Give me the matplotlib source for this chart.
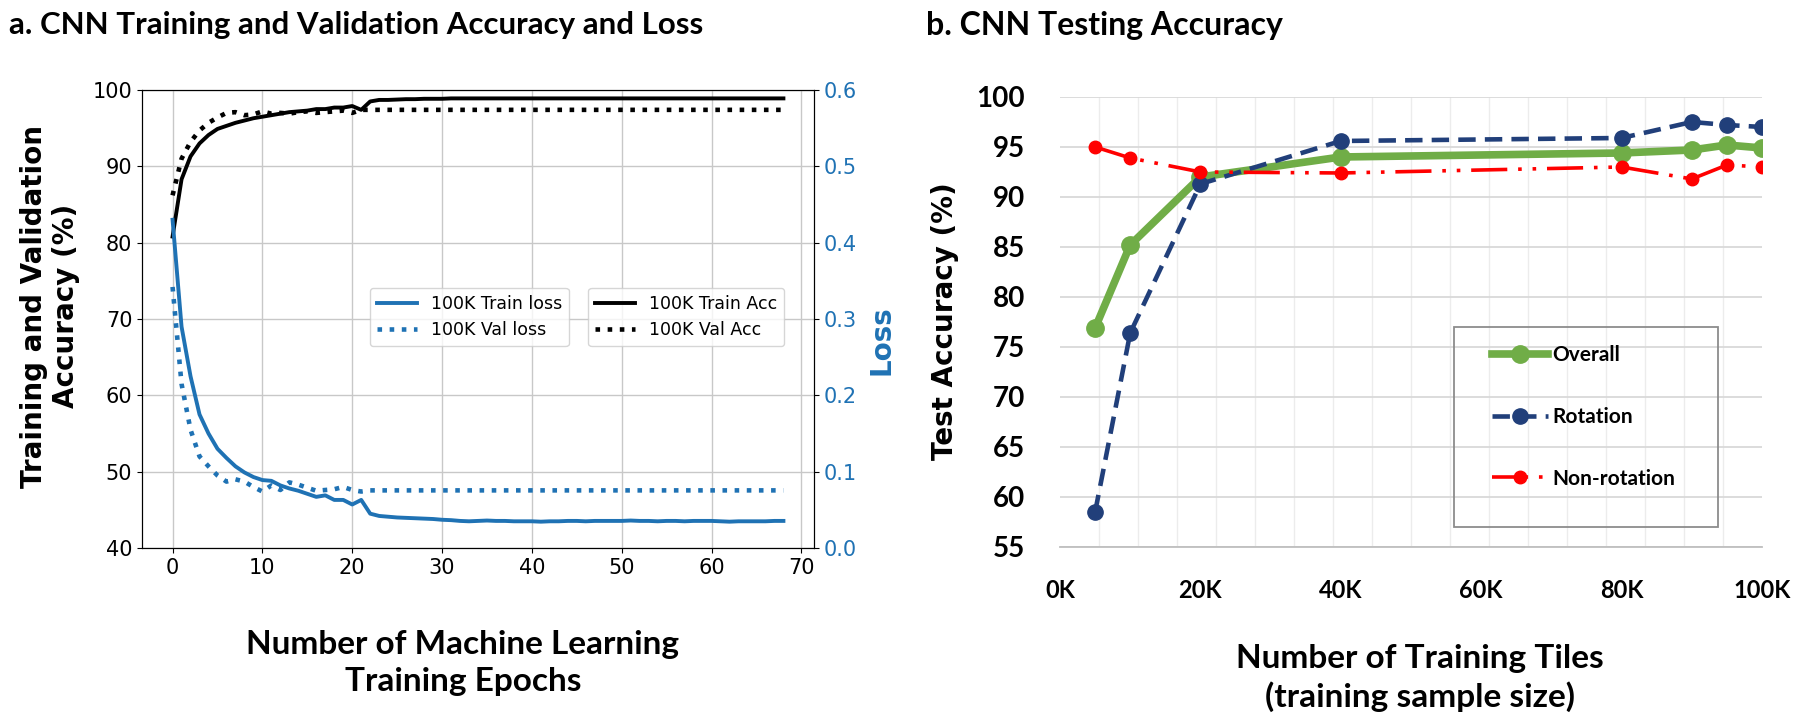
import matplotlib
matplotlib.use("Agg")
import matplotlib.pyplot as plt
from matplotlib.patches import Rectangle
import numpy as np

# ---- panel a: training history (per epoch) ----
epochs = np.arange(69)

train_acc = [80.8, 88.3, 91.3, 93.0, 94.1, 94.9, 95.3, 95.7, 96.0, 96.3,
             96.5, 96.7, 96.9, 97.1, 97.2, 97.3, 97.5, 97.5, 97.7, 97.7,
             97.9, 97.4, 98.5, 98.7, 98.7, 98.75, 98.8, 98.8, 98.85, 98.85,
             98.85, 98.9, 98.9, 98.9, 98.9, 98.9, 98.9, 98.9, 98.9, 98.9,
             98.9, 98.9, 98.9, 98.9, 98.9, 98.9, 98.9, 98.9, 98.9, 98.9,
             98.9, 98.9, 98.9, 98.9, 98.9, 98.9, 98.9, 98.9, 98.9, 98.9,
             98.9, 98.9, 98.9, 98.9, 98.9, 98.9, 98.9, 98.9, 98.9]

val_acc = [86.2, 91.0, 93.2, 94.7, 95.7, 96.4, 97.0, 97.1, 96.7, 96.8,
           97.2, 96.9, 97.0, 96.9, 97.1, 97.2, 97.0, 97.1, 97.2, 97.3,
           97.0, 97.4] + [97.4] * 47

train_loss = [0.43, 0.29, 0.225, 0.175, 0.15, 0.13, 0.118, 0.107, 0.099, 0.093,
              0.089, 0.088, 0.082, 0.078, 0.075, 0.071, 0.067, 0.069, 0.063, 0.063,
              0.057, 0.063, 0.045, 0.042, 0.041, 0.040, 0.0395, 0.039, 0.0385, 0.038,
              0.037, 0.0365, 0.0355, 0.035, 0.0355, 0.036, 0.0355, 0.0355, 0.035, 0.035,
              0.035, 0.0345, 0.035, 0.035, 0.0355, 0.0355, 0.035, 0.0355, 0.0355, 0.0355,
              0.0355, 0.036, 0.0355, 0.0355, 0.035, 0.0355, 0.0355, 0.035, 0.0355, 0.0355,
              0.0355, 0.035, 0.0345, 0.035, 0.035, 0.035, 0.035, 0.0355, 0.0355]

val_loss = [0.342, 0.215, 0.155, 0.12, 0.107, 0.095, 0.087, 0.09, 0.087, 0.08,
            0.074, 0.082, 0.076, 0.086, 0.083, 0.079, 0.075, 0.076, 0.077, 0.08,
            0.076, 0.074] + [0.0755] * 47

# ---- panel b: test accuracy vs training tiles ----
tiles_k = [5, 10, 20, 40, 80, 90, 95, 100]
overall = [76.9, 85.2, 92.0, 94.0, 94.4, 94.7, 95.2, 94.9]
rotation = [58.5, 76.4, 91.3, 95.6, 95.9, 97.5, 97.2, 97.0]
non_rotation = [95.0, 93.9, 92.5, 92.4, 93.0, 91.8, 93.2, 93.0]

blue = '#1f72b4'
green = '#70ad47'
navy = '#213f7a'
red = '#ff0000'
xl_font = 'Lato'

fig = plt.figure(figsize=(18, 7.27), dpi=100)

# ------------------ left panel ------------------
ax1 = fig.add_axes([0.0789, 0.2462, 0.3733, 0.6300])
ax2 = ax1.twinx()

l_ta, = ax1.plot(epochs, train_acc, color='black', lw=2.8, label='100K Train Acc')
l_va, = ax1.plot(epochs, val_acc, color='black', lw=3.3, linestyle=':', label='100K Val Acc')
l_tl, = ax2.plot(epochs, train_loss, color=blue, lw=2.8, label='100K Train loss')
l_vl, = ax2.plot(epochs, val_loss, color=blue, lw=3.3, linestyle=':', label='100K Val loss')

ax1.set_ylim(40, 100)
ax2.set_ylim(0, 0.6)
ax1.set_xticks(range(0, 71, 10))
ax1.grid(True, color='#c8c8c8', lw=1)
ax1.tick_params(labelsize=15)
ax2.tick_params(labelsize=15, labelcolor=blue)
ax2.set_yticks(np.arange(0, 0.61, 0.1))
ax2.set_yticklabels(['0.0', '0.1', '0.2', '0.3', '0.4', '0.5', '0.6'])

leg1 = ax2.legend(handles=[l_tl, l_vl], loc='upper left', bbox_to_anchor=(0.339, 0.568),
                  borderaxespad=0, fontsize=12.5, handlelength=2.3)
ax2.add_artist(leg1)
ax2.legend(handles=[l_ta, l_va], loc='upper left', bbox_to_anchor=(0.664, 0.568),
           borderaxespad=0, fontsize=12.5, handlelength=2.3)

fig.text(50 / 1800, 1 - 306 / 727, 'Training and Validation\nAccuracy (%)', rotation=90,
         ha='center', va='center', fontsize=20, fontweight='bold', linespacing=1.15)
fig.text(882 / 1800, 1 - 340 / 727, 'Loss', rotation=90, ha='center', va='center',
         fontsize=20, fontweight='bold', color=blue)
fig.text(463 / 1800, 1 - 663 / 727, 'Number of Machine Learning\nTraining Epochs',
         ha='center', va='center', fontsize=24, fontweight='bold', family=xl_font,
         linespacing=1.3)
fig.text(9 / 1800, 1 - 25 / 727, 'a. CNN Training and Validation Accuracy and Loss',
         ha='left', va='center', fontsize=22.5, fontweight='bold', family=xl_font)

# ------------------ right panel ------------------
ax = fig.add_axes([0.5889, 0.2476, 0.39, 0.619])

ax.plot(tiles_k, overall, color=green, lw=5.5, marker='o', markersize=12.5,
        label='Overall', zorder=3)
ax.plot(tiles_k, rotation, color=navy, lw=3.3, linestyle=(0, (3.8, 2)), marker='o',
        markersize=11, label='Rotation', zorder=4)
ax.plot(tiles_k, non_rotation, color=red, lw=2.6, linestyle=(0, (10, 3, 1, 3, 1, 3)),
        marker='o', markersize=9, label='Non-rotation', zorder=5)

ax.set_xlim(0, 100)
ax.set_ylim(55, 100)
ax.set_yticks(range(55, 101, 5))
ax.set_xticks(range(0, 101, 20))
ax.set_xticklabels([f'{v}K' for v in range(0, 101, 20)])
ax.set_xticks(np.linspace(0, 100, 19), minor=True)
ax.grid(True, axis='y', which='major', color='#d9d9d9', lw=1.3, zorder=0)
ax.grid(True, axis='x', which='minor', color='#ececec', lw=1.0, zorder=0)
for s in ['top', 'right', 'left']:
    ax.spines[s].set_visible(False)
ax.spines['bottom'].set_color('#bfbfbf')
ax.spines['bottom'].set_linewidth(1.3)
ax.tick_params(axis='both', which='both', length=0)
ax.tick_params(axis='y', pad=25)
ax.tick_params(axis='x', pad=23)
for t in ax.get_yticklabels():
    t.set_family(xl_font); t.set_fontweight('bold'); t.set_fontsize(20)
for t in ax.get_xticklabels():
    t.set_family(xl_font); t.set_fontweight('bold'); t.set_fontsize(17)

ax.add_patch(Rectangle((0.561, 0.044), 0.377, 0.444, transform=ax.transAxes,
                       fill=False, edgecolor='#8c8c8c', lw=1.3, zorder=6))
ax.legend(loc='upper left', bbox_to_anchor=(0.615, 0.448), frameon=False,
          borderpad=0, borderaxespad=0, labelspacing=2.0, handlelength=2.7,
          handletextpad=0.2, numpoints=1,
          prop={'family': xl_font, 'weight': 'bold', 'size': 15})

fig.text(945 / 1800, 1 - 321 / 727, 'Test Accuracy (%)', rotation=90, ha='center',
         va='center', fontsize=20, fontweight='bold')
fig.text(1420 / 1800, 1 - 678 / 727, 'Number of Training Tiles\n(training sample size)',
         ha='center', va='center', fontsize=24, fontweight='bold', family=xl_font,
         linespacing=1.3)
fig.text(926 / 1800, 1 - 25 / 727, 'b. CNN Testing Accuracy', ha='left', va='center',
         fontsize=23, fontweight='bold', family=xl_font)

fig.savefig('out.png', dpi=100)
